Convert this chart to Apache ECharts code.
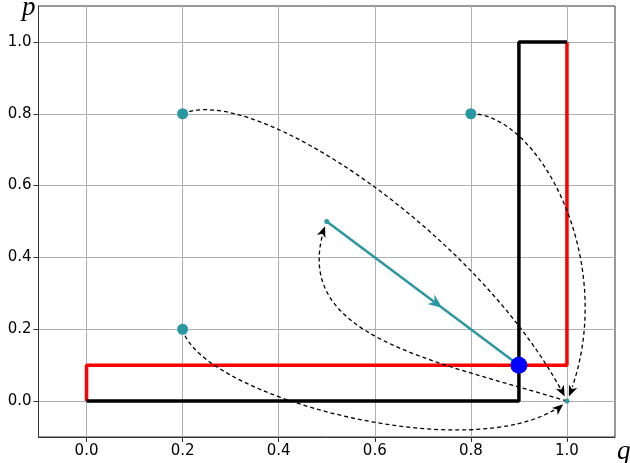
<!DOCTYPE html>
<html>
<head>
<meta charset="utf-8">
<script src="https://cdn.jsdelivr.net/npm/echarts@6/dist/echarts.min.js"></script>
<style>
  html, body { margin: 0; padding: 0; background: #fff; }
  #main { width: 630px; height: 463px; }
</style>
</head>
<body>
<div id="main"></div>
<script>
var ticks = [0.0, 0.2, 0.4, 0.6, 0.8, 1.0]
var corners = [[0.2, 0.8], [0.8, 0.8], [0.2, 0.2]]
var smallPoints = [[0.5, 0.5], [1.0, 0.0]]
var meetPoint = [[0.9, 0.1]]
var redPath = [[0, 0], [0, 0.1], [1, 0.1], [1, 1]]
var blackPath = [[0, 0], [0.9, 0], [0.9, 1], [1, 1]]
var stepPath = [[0.5, 0.5], [0.9, 0.1]]
var stepArrowAt = [[0.74, 0.26]]
// dashed flows, cubic: start, control 1, control 2, end
var flows = [
  [0.2, 0.8, 0.353, 0.888, 0.832, 0.448, 1.0, 0.0],
  [0.8, 0.8, 0.945, 0.8, 1.115, 0.37, 1.0, 0.0],
  [0.2, 0.2, 0.236, 0.011, 0.826, -0.199, 1.0, 0.0],
  [1.0, 0.0, 0.700, 0.121, 0.413, 0.186, 0.5, 0.5]
]

var teal = '#2a97a3'

function stealth (tip, d, len, half, notch) {
  var px = -d[1], py = d[0]
  return [
    tip,
    [tip[0] - d[0] * len + px * half, tip[1] - d[1] * len + py * half],
    [tip[0] - d[0] * (len - notch), tip[1] - d[1] * (len - notch)],
    [tip[0] - d[0] * len - px * half, tip[1] - d[1] * len - py * half]
  ]
}

function bez (p, t) {
  var a = (1 - t) * (1 - t) * (1 - t), b = 3 * (1 - t) * (1 - t) * t
  var c = 3 * (1 - t) * t * t, e = t * t * t
  return [a * p[0][0] + b * p[1][0] + c * p[2][0] + e * p[3][0],
    a * p[0][1] + b * p[1][1] + c * p[2][1] + e * p[3][1]]
}

function renderFlow (params, api) {
  var p = [0, 1, 2, 3].map(function (k) {
    return api.coord([api.value(2 * k), api.value(2 * k + 1)])
  })
  var dx = p[3][0] - p[2][0]
  var dy = p[3][1] - p[2][1]
  var n = Math.sqrt(dx * dx + dy * dy)
  dx /= n; dy /= n
  var shrink = 5
  var tip = [p[3][0] - dx * shrink, p[3][1] - dy * shrink]
  var len = 0
  var prev = p[0]
  for (var i = 1; i <= 60; i++) {
    var q = bez(p, i / 60)
    len += Math.sqrt((q[0] - prev[0]) * (q[0] - prev[0]) + (q[1] - prev[1]) * (q[1] - prev[1]))
    prev = q
  }
  return {
    type: 'group',
    children: [{
      type: 'bezierCurve',
      shape: {
        x1: p[0][0], y1: p[0][1], x2: p[3][0], y2: p[3][1],
        cpx1: p[1][0], cpy1: p[1][1], cpx2: p[2][0], cpy2: p[2][1],
        percent: 1 - (shrink + 7) / len
      },
      style: { stroke: '#000', lineWidth: 1.3, lineDash: [4, 3], fill: null }
    }, {
      type: 'polygon',
      shape: { points: stealth(tip, [dx, dy], 11, 4.5, 3) },
      style: { fill: '#000' }
    }]
  }
}

function renderStepArrow (params, api) {
  var a = api.coord(stepPath[0])
  var b = api.coord(stepPath[1])
  var dx = b[0] - a[0], dy = b[1] - a[1]
  var n = Math.sqrt(dx * dx + dy * dy)
  var tip = api.coord([api.value(0), api.value(1)])
  return {
    type: 'polygon',
    shape: { points: stealth(tip, [dx / n, dy / n], 14, 6, 4.5) },
    style: { fill: teal }
  }
}

var axisBase = {
  type: 'value',
  min: -0.1,
  max: 1.1,
  nameTextStyle: { fontFamily: 'Liberation Serif', fontStyle: 'italic', fontSize: 27, color: '#000' },
  axisLine: { show: true, onZero: false, lineStyle: { color: '#333', width: 1 } },
  axisTick: { show: true, length: 5, customValues: ticks, lineStyle: { color: '#333' } },
  axisLabel: {
    customValues: ticks,
    formatter: function (v) { return v.toFixed(1) },
    color: '#000',
    fontFamily: 'DejaVu Sans',
    fontSize: 15,
    margin: 7
  },
  splitLine: { show: true, lineStyle: { color: '#b0b0b0', width: 1 } }
}

var chart = echarts.init(document.getElementById('main'))
chart.setOption({
  animation: false,
  grid: {
    left: 38.5, right: 15, top: 6, bottom: 26,
    outerBoundsMode: 'none',
    show: true, borderColor: '#333', borderWidth: 1
  },
  xAxis: Object.assign({}, axisBase, {
    name: 'q',
    nameLocation: 'end',
    nameGap: 2,
    nameTextStyle: Object.assign({}, axisBase.nameTextStyle, { verticalAlign: 'top', padding: [1, 0, 0, 0] })
  }),
  yAxis: Object.assign({}, axisBase, {
    name: 'p',
    nameLocation: 'end',
    nameGap: -2,
    nameTextStyle: Object.assign({}, axisBase.nameTextStyle, { align: 'right', verticalAlign: 'middle', padding: [0, 3, 0, 0] })
  }),
  series: [
    {
      type: 'line', data: redPath, showSymbol: false, silent: true, z: 2,
      lineStyle: { color: '#ff0000', width: 3.5 }
    },
    {
      type: 'line', data: blackPath, showSymbol: false, silent: true, z: 2,
      lineStyle: { color: '#000', width: 3.5 }
    },
    {
      type: 'custom', data: flows, renderItem: renderFlow, silent: true, z: 3
    },
    {
      type: 'line', data: stepPath, showSymbol: false, silent: true, z: 4,
      lineStyle: { color: teal, width: 2.5 }
    },
    {
      type: 'custom', data: stepArrowAt, renderItem: renderStepArrow, silent: true, z: 4
    },
    {
      type: 'scatter', data: corners, symbolSize: 11, silent: true, z: 5,
      itemStyle: { color: teal, opacity: 1 }
    },
    {
      type: 'scatter', data: smallPoints, symbolSize: 5, silent: true, z: 5,
      itemStyle: { color: teal, opacity: 1 }
    },
    {
      type: 'scatter', data: meetPoint, symbolSize: 17, silent: true, z: 6,
      itemStyle: { color: '#0000ff', opacity: 1, borderWidth: 0 }
    }
  ]
})
</script>
</body>
</html>
